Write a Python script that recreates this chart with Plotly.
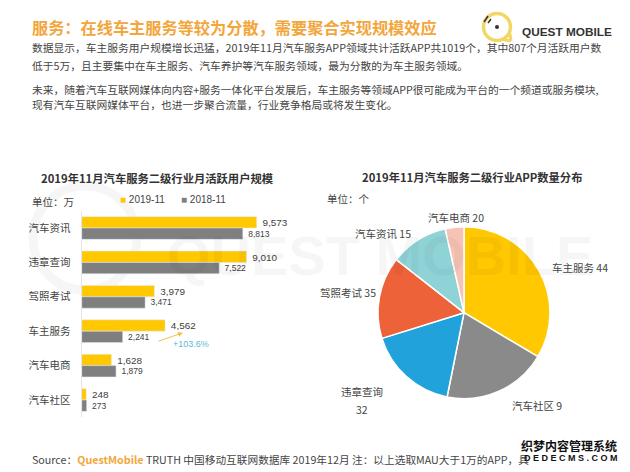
import plotly.graph_objects as go

W, H = 630, 472
CJK = "Noto Sans CJK SC"
LATIN = "Liberation Sans"

# left chart
categories = ["汽车资讯", "违章查询", "驾照考试", "车主服务", "汽车电商", "汽车社区"]
users_2019 = [9573, 9010, 3979, 4562, 1628, 248]
users_2018 = [8813, 7522, 3471, 2241, 1879, 273]

pie_names = ["车主服务", "汽车社区", "违章查询", "驾照考试", "汽车资讯", "汽车电商"]
pie_shares = [33.5, 19.6, 17.0, 15.4, 10.9, 3.5]
pie_colors = ["#FFC800", "#8A8A8A", "#22A2DA", "#EE6239", "#8FD3D6", "#F6C3B4"]
pie_labels = ["车主服务 44", "汽车社区 9", "违章查询", "32", "驾照考试 35", "汽车资讯 15", "汽车电商 20"]
pie_label_pos = [(580, 267), (537, 405), (362, 391), (362, 409), (348, 292), (383, 233), (456, 217)]

title = "服务：在线车主服务等较为分散，需要聚合实现规模效应"
body_lines = [
    ("数据显示，车主服务用户规模增长迅猛，2019年11月汽车服务APP领域共计活跃APP共1019个，其中807个月活跃用户数", 48),
    ("低于5万，且主要集中在车主服务、汽车养护等汽车服务领域，最为分散的为车主服务领域。", 66),
    ("未来，随着汽车互联网媒体向内容+服务一体化平台发展后，车主服务等领域APP很可能成为平台的一个频道或服务模块,", 89),
    ("现有汽车互联网媒体平台，也进一步聚合流量，行业竞争格局或将发生变化。", 105),
]


def px(x):
    return x / W


def py(y):
    return 1 - y / H


def label(text, x, y, size=10.5, color="#444444", anchor="left", family=CJK, bold=False):
    if bold:
        text = "<b>" + text + "</b>"
    return dict(text=text, x=px(x), y=py(y), xref="paper", yref="paper", xanchor=anchor, yanchor="middle",
                showarrow=False, align="center", font=dict(size=size, color=color, family=family))


def line(x0, y0, x1, y1, color, width):
    fig.add_shape(type="line", xref="paper", yref="paper", x0=px(x0), y0=py(y0), x1=px(x1), y1=py(y1),
                  line=dict(color=color, width=width))


fig = go.Figure()
fig.add_trace(go.Bar(y=categories, x=users_2019, orientation="h", name="2019-11", marker_color="#FFC800",
                     texttemplate="\u00a0%{x:,}", textposition="outside", cliponaxis=False,
                     textfont=dict(size=10.5, color="#404040", family=LATIN)))
fig.add_trace(go.Bar(y=categories, x=users_2018, orientation="h", name="2018-11", marker_color="#7F7F7F",
                     texttemplate="\u00a0%{x:,}", textposition="outside", cliponaxis=False,
                     textfont=dict(size=8.5, color="#404040", family=LATIN)))
fig.add_trace(go.Pie(labels=pie_names, values=pie_shares, sort=False, direction="clockwise", rotation=0,
                     marker=dict(colors=pie_colors, line=dict(color="white", width=1.5)),
                     textinfo="none", showlegend=False,
                     domain=dict(x=[px(464 - 86), px(464 + 86)], y=[py(312.7 + 86), py(312.7 - 86)])))

scale = 175 / 9573  # px per unit
fig.update_layout(
    width=W, height=H, margin=dict(l=0, r=0, t=0, b=0), paper_bgcolor="white", plot_bgcolor="rgba(0,0,0,0)",
    barmode="group", bargap=0.34, bargroupgap=0, showlegend=False,
    xaxis=dict(domain=[px(81.7), px(300)], range=[0, (300 - 81.7) / scale], visible=False),
    yaxis=dict(domain=[py(417.2), py(210.8)], autorange="reversed", showgrid=False, zeroline=False,
               showline=True, linecolor="#E4E4E4", linewidth=1, ticks="", ticklabelstandoff=8,
               tickfont=dict(size=10.5, color="#444444", family=CJK)),
)

notes = [
    label("QUEST MOBILE", 165, 255, size=56, color="rgba(0,0,0,0.035)", family=LATIN, bold=True),
    label(title, 30, 27, size=16.2, color="#F2A63B", bold=True),
    label("2019年11月汽车服务二级行业月活跃用户规模", 157, 178, size=11.3, color="#333333", anchor="center", bold=True),
    label("2019年11月汽车服务二级行业APP数量分布", 472, 177, size=11.3, color="#333333", anchor="center", bold=True),
    label("单位：万", 30, 201),
    label("单位：个", 325, 198),
    label("<span style='color:#FFC800'>■</span> 2019-11", 118, 199, size=10, family=LATIN),
    label("<span style='color:#7F7F7F'>■</span> 2018-11", 179, 199, size=10, family=LATIN),
    label("+103.6%", 171, 344, size=9, color="#5DB9D2", family=LATIN),
    label("QUEST MOBILE", 520, 32, size=11.8, color="#333333", family=LATIN, bold=True),
    label("Source：<span style='color:#F2A63B'><b>QuestMobile</b></span> TRUTH 中国移动互联网数据库 2019年12月 注：以上选取MAU大于1万的APP，具",
          30, 459, size=10.7),
    label("织梦内容管理系统", 619, 445, size=12, color="#111111", anchor="right", bold=True),
    label("D\u00a0E\u00a0D\u00a0E\u00a0C\u00a0M\u00a0S\u00a0.\u00a0C\u00a0O\u00a0M", 620, 458, size=9,
          color="#111111", anchor="right", family=LATIN, bold=True),
]
for text, y in body_lines:
    notes.append(label(text, 30, y, size=10.75))
for text, (x, y) in zip(pie_labels, pie_label_pos):
    notes.append(label(text, x, y, size=10.5, anchor="center"))
# growth arrow
notes.append(dict(x=px(183), y=py(332.7), ax=-26, ay=9, xref="paper", yref="paper", axref="pixel",
                  ayref="pixel", text="", showarrow=True, arrowhead=2, arrowsize=1, arrowwidth=1, arrowcolor="#F0C24A"))
fig.update_layout(annotations=notes)

# logo
fig.add_shape(type="circle", xref="paper", yref="paper", x0=px(483.5), x1=px(510.5), y0=py(40.5), y1=py(13.5),
              line=dict(color="#F3D764", width=3.5))
line(503, 39.5, 511, 41, "#F3D764", 3)
line(510, 34, 511, 41, "#F3D764", 3)
fig.add_shape(type="circle", xref="paper", yref="paper", x0=px(495), x1=px(499), y0=py(29), y1=py(25),
              fillcolor="#333333", line_width=0)
line(484, 22, 488, 16, "#333333", 1.5)
line(488, 23, 491, 19, "#333333", 1.5)
# faint round watermark
fig.add_shape(type="circle", xref="paper", yref="paper", x0=px(33), x1=px(137), y0=py(290), y1=py(186),
              line=dict(color="rgba(0,0,0,0.035)", width=9), layer="below")

fig.write_html("out.html", config=dict(displayModeBar=False),
               post_script="document.body.style.margin='0';document.body.style.overflow='hidden';")
